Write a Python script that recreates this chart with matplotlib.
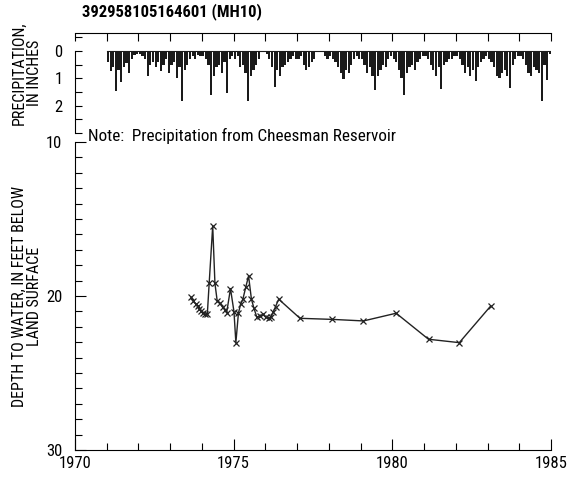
import numpy as np
import matplotlib
matplotlib.use("Agg")
from matplotlib import pyplot as plt
from matplotlib.ticker import MultipleLocator

plt.rcParams['font.family'] = ['Roboto Condensed', 'DejaVu Sans']

# Monthly precipitation, inches (Cheesman Reservoir), 1971-1984
precip_years = list(range(1971, 1985))
precip = [
    [0.4, 0.75, 0.6, 1.47, 0.7, 1.13, 0.6, 0.45, 0.8, 0.3, 0.15, 0.1],   # 1971
    [0.1, 0.2, 0.3, 0.9, 0.5, 0.4, 0.6, 0.4, 0.75, 0.5, 0.3, 0.8],       # 1972
    [0.5, 0.4, 1.0, 0.6, 1.84, 0.7, 0.5, 0.3, 0.2, 0.3, 0.15, 0.2],      # 1973
    [0.2, 0.3, 0.5, 1.6, 0.9, 0.6, 0.5, 0.8, 0.4, 1.55, 0.3, 0.2],       # 1974
    [0.3, 0.2, 0.6, 0.5, 0.8, 1.84, 0.9, 0.7, 0.5, 0.3, 0.0, 0.0],       # 1975
    [0.1, 0.3, 0.6, 1.31, 0.7, 0.9, 0.6, 0.5, 0.4, 0.3, 0.2, 0.3],       # 1976
    [0.3, 0.2, 0.5, 0.7, 0.6, 0.4, 0.3, 0.0, 0.0, 0.0, 0.2, 0.3],        # 1977
    [0.2, 0.3, 0.4, 0.6, 0.8, 1.04, 0.7, 0.8, 0.5, 0.3, 0.2, 0.3],       # 1978
    [0.3, 0.5, 0.8, 0.6, 0.9, 1.44, 0.9, 0.7, 0.5, 0.6, 0.3, 0.2],       # 1979
    [0.3, 0.4, 0.7, 1.0, 1.62, 0.8, 0.6, 0.5, 0.7, 0.4, 0.3, 0.2],       # 1980
    [0.2, 0.3, 0.5, 0.7, 0.9, 0.6, 1.39, 0.5, 0.4, 0.3, 0.3, 0.2],       # 1981
    [0.2, 0.3, 0.5, 0.8, 0.6, 0.9, 0.7, 1.1, 0.6, 0.4, 0.3, 0.2],        # 1982
    [0.3, 0.4, 0.6, 0.9, 1.0, 0.8, 0.7, 0.9, 1.35, 0.5, 0.3, 0.2],       # 1983
    [0.2, 0.3, 0.5, 0.8, 0.9, 0.6, 0.7, 0.8, 1.84, 0.5, 1.07, 0.1],      # 1984
]

# Depth to water, feet below land surface
wl_dates = [1973.66, 1973.73, 1973.81, 1973.89, 1973.92, 1973.97, 1974.02, 1974.10,
            1974.17, 1974.23, 1974.34, 1974.41, 1974.48, 1974.57, 1974.65, 1974.73,
            1974.78, 1974.90, 1975.01, 1975.07, 1975.15, 1975.22, 1975.29, 1975.38,
            1975.47, 1975.56, 1975.64, 1975.73, 1975.83, 1975.92, 1976.01, 1976.10,
            1976.17, 1976.25, 1976.32, 1976.42, 1977.09, 1978.11, 1979.09, 1980.12,
            1981.14, 1982.11, 1983.10]
wl_depth = [20.09, 20.3, 20.54, 20.65, 20.87, 20.97, 21.12, 21.19,
            21.19, 19.13, 15.45, 19.18, 20.3, 20.47, 20.73, 20.9,
            21.08, 19.52, 21.02, 23.03, 21.12, 20.52, 20.21, 19.44,
            18.7, 20.21, 20.8, 21.38, 21.3, 21.19, 21.38, 21.45,
            21.38, 21.02, 20.69, 20.21, 21.45, 21.52, 21.62, 21.12,
            22.81, 23.03, 20.65]

fig = plt.figure(figsize=(5.71, 4.78), dpi=100)
axp = fig.add_axes([0.1313, 0.722, 0.8337, 0.209])
ax = fig.add_axes([0.1313, 0.0586, 0.8337, 0.6444])

# precipitation panel
px = []
pv = []
for i, yr in enumerate(precip_years):
    for m in range(12):
        px.append(yr + (m + 0.5) / 12)
        pv.append(precip[i][m])
axp.bar(px, pv, width=0.07, color='#1a1a1a', linewidth=0)
axp.plot([precip_years[0], precip_years[-1] + 1], [0, 0], color='#1a1a1a', lw=0.8)
axp.set_xlim(1970, 1985)
axp.set_ylim(3, -0.66)
axp.spines['right'].set_visible(False)
axp.spines['bottom'].set_visible(False)
axp.spines['left'].set_bounds(0, 3)
axp.set_yticks([0, 1, 2, 3])
axp.set_yticklabels(['0', '1', '2', ''])
axp.yaxis.set_minor_locator(MultipleLocator(0.5))
axp.xaxis.set_major_locator(MultipleLocator(5))
axp.xaxis.set_minor_locator(MultipleLocator(1))
axp.tick_params(axis='x', which='both', direction='in', top=True, bottom=False,
                labeltop=False, labelbottom=False, length=6, width=0.8)
axp.tick_params(axis='y', which='both', direction='in', length=5, width=0.8,
                labelsize=12, pad=9)
axp.set_ylabel('PRECIPITATION,\nIN INCHES', fontsize=11.5, linespacing=1.0)
axp.yaxis.set_label_coords(-0.07, 0.6)

# water level panel
ax.plot(wl_dates, wl_depth, color='#222222', lw=1.0, marker='x', ms=4.5, mew=0.9)
ax.set_xlim(1970, 1985)
ax.set_ylim(30, 10)
ax.spines['top'].set_visible(False)
ax.spines['right'].set_visible(False)
ax.set_yticks([10, 20, 30])
ax.yaxis.set_minor_locator(MultipleLocator(1))
ax.set_xticks([1970, 1975, 1980, 1985])
ax.xaxis.set_minor_locator(MultipleLocator(1))
ax.tick_params(axis='both', which='major', direction='in', length=8, width=0.8,
               labelsize=12)
ax.tick_params(axis='both', which='minor', direction='in', length=5, width=0.8)
ax.tick_params(axis='y', which='major', pad=9)
ax.tick_params(axis='x', which='major', pad=4)
ax.set_ylabel('DEPTH TO WATER, IN FEET BELOW\nLAND SURFACE', fontsize=11.5,
              linespacing=1.0)
ax.yaxis.set_label_coords(-0.07, 0.5)

ax.text(0.028, 1.02, 'Note:  Precipitation from Cheesman Reservoir', transform=ax.transAxes,
        fontsize=12.3, va='center', ha='left')

fig.text(0.143, 0.975, '392958105164601 (MH10)', fontsize=12, fontweight='bold',
         ha='left', va='center')

fig.savefig('out.png', dpi=100)
